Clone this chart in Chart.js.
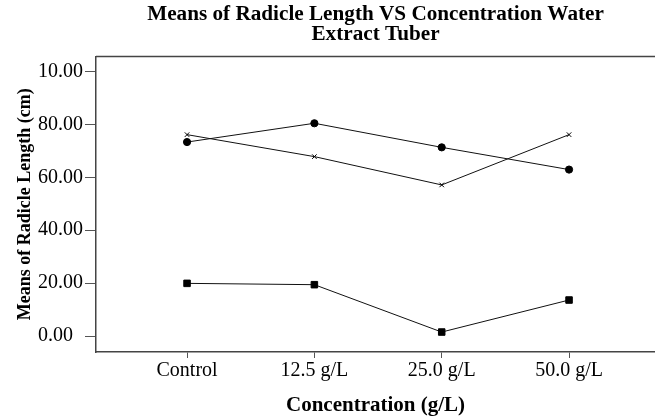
<!DOCTYPE html>
<html>
<head>
<meta charset="utf-8">
<script src="https://cdn.jsdelivr.net/npm/chart.js@4/dist/chart.umd.min.js"></script>
<style>
  html, body { margin: 0; padding: 0; background: #ffffff; }
  #wrap { width: 655px; height: 417px; position: relative; }
</style>
</head>
<body>
<div id="wrap"><canvas id="c"></canvas></div>
<script>
const categories = ['Control', '12.5 g/L', '25.0 g/L', '50.0 g/L'];
const circleMeans = [73.3, 80.4, 71.3, 62.9];
const crossMeans = [76.1, 67.8, 57.1, 76.1];
const squareMeans = [19.9, 19.4, 1.5, 13.6];
const yTickValues = [0, 20, 40, 60, 80, 100];
const yTickLabels = ['0.00', '20.00', '40.00', '60.00', '80.00', '10.00'];

const SERIF = "'Liberation Serif', 'Times New Roman', serif";
const FRAME = '#444444';

function pts(arr) { return arr.map((v, i) => ({ x: i, y: v })); }

const topBorder = {
  id: 'topBorder',
  afterDraw(chart) {
    const { ctx, chartArea } = chart;
    ctx.save();
    ctx.strokeStyle = FRAME;
    ctx.lineWidth = 1.5;
    ctx.beginPath();
    ctx.moveTo(chartArea.left, chartArea.top);
    ctx.lineTo(chartArea.right + 2, chartArea.top);
    ctx.stroke();
    ctx.restore();
  }
};

const common = { borderColor: '#111111', backgroundColor: '#000000', borderWidth: 1, tension: 0, pointBorderColor: '#000000', pointBackgroundColor: '#000000' };

new Chart(document.getElementById('c'), {
  type: 'line',
  data: {
    datasets: [
      Object.assign({ label: 'Series 1', data: pts(circleMeans), pointStyle: 'circle', pointRadius: 3.6, pointBorderWidth: 1 }, common),
      Object.assign({ label: 'Series 2', data: pts(crossMeans), pointStyle: 'crossRot', pointRadius: 3.2, pointBorderWidth: 1 }, common),
      Object.assign({ label: 'Series 3', data: pts(squareMeans), pointStyle: 'rect', pointRadius: 4.6, pointBorderWidth: 1 }, common)
    ]
  },
  options: {
    responsive: true,
    maintainAspectRatio: false,
    animation: false,
    layout: { autoPadding: false, padding: { left: 38, right: 0, top: 0, bottom: 0 } },
    plugins: {
      legend: { display: false },
      tooltip: { enabled: false },
      title: {
        display: true,
        fullSize: false,
        text: ['Means of Radicle Length VS Concentration Water', 'Extract Tuber'],
        color: '#000000',
        font: { family: SERIF, size: 21.2, weight: 'bold', lineHeight: 0.93 },
        padding: { top: 4.5, bottom: 12.5 }
      }
    },
    scales: {
      x: {
        type: 'linear',
        min: -0.715,
        max: 3.675,
        afterBuildTicks(scale) { scale.ticks = categories.map((c, i) => ({ value: i })); },
        afterFit(scale) { scale.height = 65; scale.paddingLeft = 0; scale.paddingRight = 0; },
        grid: { display: true, drawOnChartArea: false, drawTicks: true, tickLength: 6, color: '#555555', lineWidth: 1 },
        border: { display: true, color: FRAME, width: 1.5 },
        ticks: {
          color: '#000000',
          padding: 2.5,
          maxRotation: 0,
          autoSkip: false,
          font: { family: SERIF, size: 20, lineHeight: 1 },
          callback: (v) => categories[v]
        },
        title: {
          display: true,
          text: 'Concentration (g/L)',
          color: '#000000',
          font: { family: SERIF, size: 21, weight: 'bold', lineHeight: 1 },
          padding: { top: 0, bottom: 1 }
        }
      },
      y: {
        type: 'linear',
        min: -6.04,
        max: 105.66,
        afterBuildTicks(scale) { scale.ticks = yTickValues.map(v => ({ value: v })); },
        afterFit(scale) { scale.width = 58; },
        grid: { display: true, drawOnChartArea: false, drawTicks: true, tickLength: 11, color: '#555555', lineWidth: 1 },
        border: { display: true, color: FRAME, width: 1.5 },
        ticks: {
          color: '#000000',
          padding: 3,
          crossAlign: 'far',
          font: { family: SERIF, size: 20, lineHeight: 1 },
          callback: (v) => yTickLabels[yTickValues.indexOf(v)]
        },
        title: {
          display: true,
          text: 'Means of Radicle Length (cm)',
          color: '#000000',
          font: { family: SERIF, size: 18, weight: 'bold', lineHeight: 1 },
          padding: { top: -22, bottom: 0 }
        }
      }
    }
  },
  plugins: [topBorder]
});
</script>
</body>
</html>
